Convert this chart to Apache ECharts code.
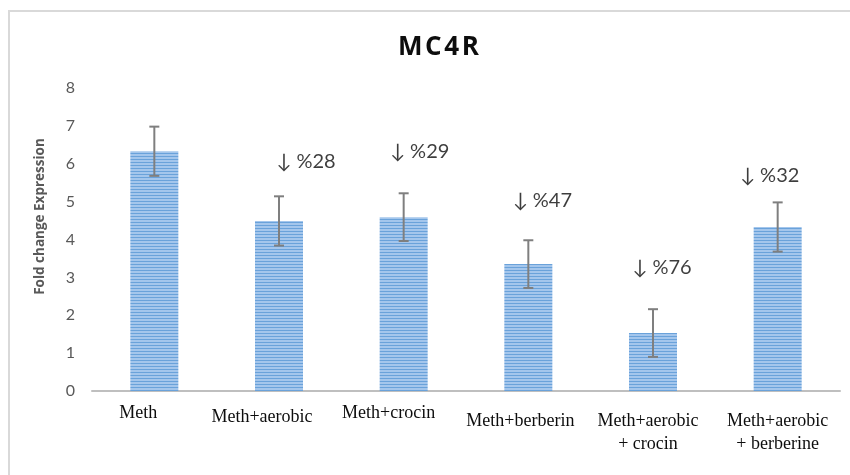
<!DOCTYPE html>
<html>
<head>
<meta charset="utf-8">
<script src="https://cdn.jsdelivr.net/npm/echarts@6/dist/echarts.min.js"></script>
<style>
html,body{margin:0;padding:0;background:#fff;}
#chart{width:850px;height:475px;}
</style>
</head>
<body>
<div id="chart"></div>
<script>
// ---- data ----
var categories = ['Meth', 'Meth+aerobic', 'Meth+crocin', 'Meth+berberin', 'Meth+aerobic\n+ crocin', 'Meth+aerobic\n+ berberine'];
var foldChange = [6.33, 4.49, 4.59, 3.35, 1.53, 4.33];
var errorValues = [0.65, 0.65, 0.63, 0.63, 0.63, 0.65];
var annotationText = ['', '↓ %28', '↓ %29', '↓ %47', '↓ %76', '↓ %32'];
var annotationY = [null, 6.05, 6.31, 5.04, 3.27, 5.70];
var yTicks = [0, 1, 2, 3, 4, 5, 6, 7, 8];

// ---- styling helpers ----
var annotationOffsetX = [0, 27, 16, 14, 9, -8];
var labelShiftX = [-16, -17, -15, -8, -5, 0];
var labelShiftY = [0, 4, 0, 8, 8, 8];

var pat = document.createElement('canvas');
pat.width = 4; pat.height = 3;
var pc = pat.getContext('2d');
pc.fillStyle = '#a4c6ec'; pc.fillRect(0, 0, 4, 3);
pc.fillStyle = '#6aa2da'; pc.fillRect(0, 0, 4, 1);

var catData = categories.map(function (c, i) {
  var sx = labelShiftX[i];
  return {
    value: c,
    textStyle: { padding: [labelShiftY[i], sx < 0 ? -2 * sx : 0, 0, sx > 0 ? 2 * sx : 0] }
  };
});

var errData = foldChange.map(function (v, i) { return [i, v - errorValues[i], v + errorValues[i]]; });
var annData = [];
annotationY.forEach(function (y, i) {
  if (y != null) {
    annData.push({
      value: [i, y],
      label: { offset: [annotationOffsetX[i], 0], formatter: annotationText[i] }
    });
  }
});

var chart = echarts.init(document.getElementById('chart'));
chart.setOption({
  animation: false,
  backgroundColor: '#fff',
  graphic: [{
    type: 'polyline',
    shape: { points: [[9, 480], [9, 11], [860, 11]] },
    style: { stroke: '#d9d9d9', lineWidth: 2, fill: null },
    silent: true
  }],
  title: {
    text: 'M\u200AC\u200A4\u200AR',
    left: 393,
    top: 30,
    textStyle: { fontFamily: 'Open Sans', fontWeight: 'bold', fontSize: 26, color: '#0d0d0d' }
  },
  grid: { left: 92, right: 10, top: 88, bottom: 84 },
  xAxis: {
    type: 'category',
    data: catData,
    axisLine: { show: true, lineStyle: { color: '#bfbfbf', width: 2 } },
    axisTick: { show: false },
    axisLabel: {
      interval: 0,
      margin: 11,
      fontFamily: 'Liberation Serif',
      fontSize: 18,
      lineHeight: 23,
      color: '#0d0d0d'
    }
  },
  yAxis: {
    type: 'value',
    min: yTicks[0],
    max: yTicks[yTicks.length - 1],
    interval: 1,
    name: 'Fold change Expression',
    nameLocation: 'middle',
    nameGap: 45,
    nameRotate: 90,
    nameTextStyle: { fontFamily: 'Open Sans', fontWeight: 'bold', fontSize: 13.5, color: '#595959', padding: [0, 0, 0, 46] },
    axisLine: { show: false },
    axisTick: { show: false },
    splitLine: { show: false },
    axisLabel: { margin: 17, fontFamily: 'Lato', fontSize: 16, color: '#595959' }
  },
  series: [
    {
      type: 'bar',
      data: foldChange,
      barWidth: 48,
      itemStyle: { color: { image: pat, repeat: 'repeat' } },
      z: 2
    },
    {
      type: 'custom',
      data: errData,
      z: 5,
      renderItem: function (params, api) {
        var x = api.value(0);
        var lo = api.coord([x, api.value(1)]);
        var hi = api.coord([x, api.value(2)]);
        var hw = 5;
        var st = { stroke: '#7f7f7f', lineWidth: 2 };
        return {
          type: 'group',
          children: [
            { type: 'line', shape: { x1: hi[0], y1: hi[1], x2: lo[0], y2: lo[1] }, style: st },
            { type: 'line', shape: { x1: hi[0] - hw, y1: hi[1], x2: hi[0] + hw, y2: hi[1] }, style: st },
            { type: 'line', shape: { x1: lo[0] - hw, y1: lo[1], x2: lo[0] + hw, y2: lo[1] }, style: st }
          ]
        };
      }
    },
    {
      type: 'scatter',
      data: annData,
      symbolSize: 0,
      z: 6,
      label: {
        show: true,
        position: 'inside',
        fontFamily: 'Lato',
        fontSize: 20,
        color: '#0d0d0d'
      }
    }
  ]
});
</script>
</body>
</html>
